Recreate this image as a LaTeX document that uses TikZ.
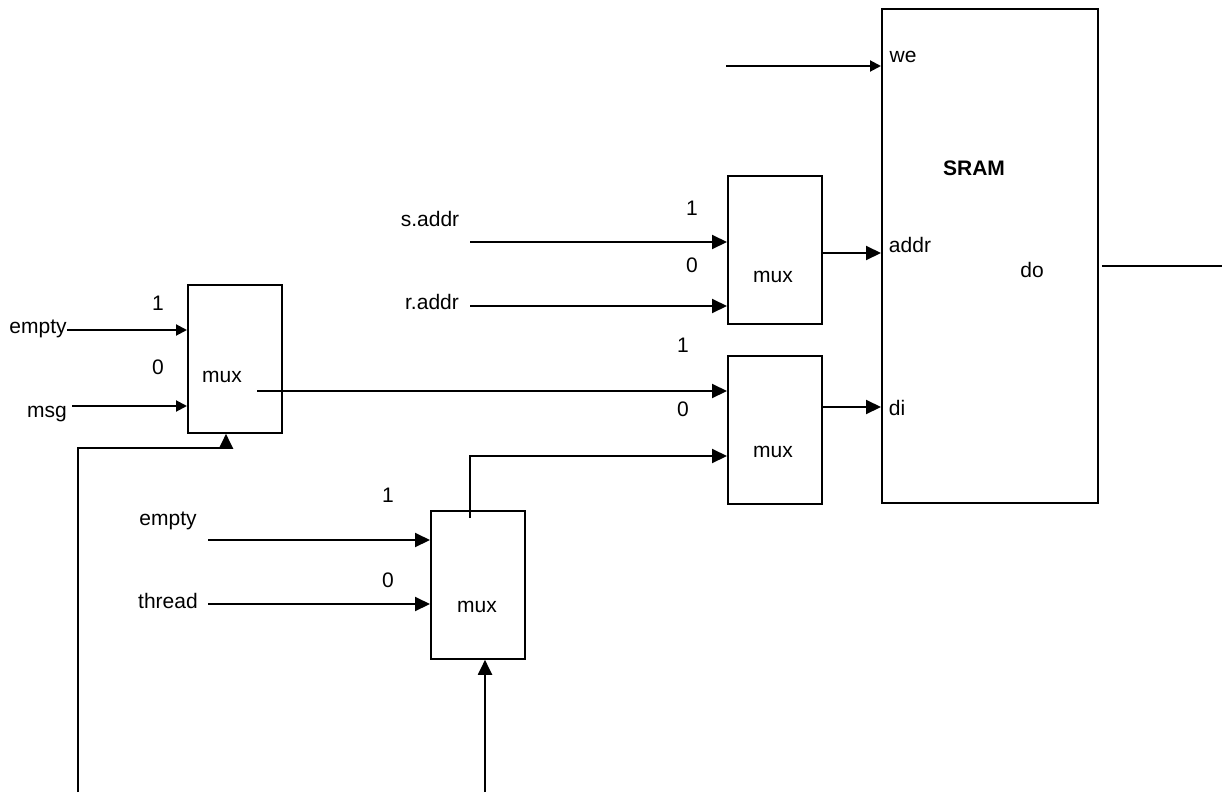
\documentclass[tikz,border=0pt]{standalone}
\usepackage{fontspec}
\setmainfont{Liberation Sans}
\usetikzlibrary{arrows.meta}
\tikzset{
  blk/.style={draw, line width=1.8pt, anchor=north west, inner sep=0pt},
  muxbox/.style={blk, minimum width=94pt, minimum height=148pt},
  lbl/.style={anchor=base, inner sep=0pt, font=\fontsize{21}{25}\selectfont},
  wire/.style={line width=2pt},
  sig/.style={wire, -{Triangle[length=11pt,width=11pt]}},
  bigsig/.style={wire, -{Triangle[length=15pt,width=14pt]}}
}

\begin{document}
\begin{tikzpicture}[x=1pt, y=-1pt]
  \useasboundingbox (0,0) rectangle (1222,792);
  % blocks
  \node[muxbox] (muxa) at (187,284) {};
  \node[muxbox] (muxb) at (727,175) {};
  \node[muxbox] (muxc) at (727,355) {};
  \node[muxbox] (muxd) at (430,510) {};
  \node[blk, minimum width=216pt, minimum height=494pt] (sram) at (881,8) {};

  % mux A
  \node[lbl] (empa) at (38,333) {empty};
  \node[lbl] (msga) at (47,417) {msg};
  \node[lbl] (onea) at (158,310) {1};
  \node[lbl] (zeroa) at (158,374) {0};
  \node[lbl] (txta) at (222,382) {mux};
  % mux B
  \node[lbl] (saddr) at (430,226) {s.addr};
  \node[lbl] (raddr) at (432,309) {r.addr};
  \node[lbl] (oneb) at (692,215) {1};
  \node[lbl] (zerob) at (692,272) {0};
  \node[lbl] (txtb) at (773,282) {mux};
  % mux C
  \node[lbl] (onec) at (683,352) {1};
  \node[lbl] (zeroc) at (683,416) {0};
  \node[lbl] (txtc) at (773,457) {mux};
  % mux D
  \node[lbl] (empd) at (168,525) {empty};
  \node[lbl] (thrd) at (168,608) {thread};
  \node[lbl] (oned) at (388,502) {1};
  \node[lbl] (zerod) at (388,587) {0};
  \node[lbl] (txtd) at (477,612) {mux};
  % SRAM
  \node[lbl, font=\fontsize{21}{25}\selectfont\bfseries] (txts) at (974,175) {SRAM};
  \node[lbl] (we) at (903,63) {we};
  \node[lbl] (addr) at (910,252) {addr};
  \node[lbl] (di) at (897,415) {di};
  \node[lbl] (do) at (1032,277) {do};

  % pins
  \coordinate (pa1) at (187,330);
  \coordinate (pa0) at (187,406);
  \coordinate (pb1) at (727,242);
  \coordinate (pb0) at (727,306);
  \coordinate (pc1) at (727,391);
  \coordinate (pc0) at (727,456);
  \coordinate (pd1) at (430,540);
  \coordinate (pd0) at (430,604);
  \coordinate (pwe) at (881,66);
  \coordinate (paddr) at (881,253);
  \coordinate (pdi) at (881,407);
  % free ends
  \coordinate (outa) at (257,391);
  \coordinate (outd) at (470,518);
  \coordinate (sela) at (78,792);
  \coordinate (selak) at (226,448);
  \coordinate (seld) at (485,792);
  \coordinate (srcs) at (470,242);
  \coordinate (srcr) at (470,306);
  \coordinate (srce) at (208,540);
  \coordinate (srct) at (208,604);
  \coordinate (srcwe) at (726,66);
  \coordinate (outdo) at (1222,266);

  % wires
  \draw[sig] (empa.east |- pa1) -- (pa1);
  \draw[sig] ([xshift=5pt]msga.east |- pa0) -- (pa0);
  \draw[bigsig] (outa) -- (pc1);
  \draw[bigsig] (sela) |- (selak) -- (selak |- muxa.south);
  \draw[bigsig] (srcs) -- (pb1);
  \draw[bigsig] (srcr) -- (pb0);
  \draw[bigsig] (muxb.east |- paddr) -- (paddr);
  \draw[bigsig] (outd) |- (pc0);
  \draw[bigsig] (muxc.east |- pdi) -- (pdi);
  \draw[bigsig] (srce) -- (pd1);
  \draw[bigsig] (srct) -- (pd0);
  \draw[bigsig] (seld) -- (seld |- muxd.south);
  \draw[sig] (srcwe) -- (pwe);
  \draw[wire] ([xshift=3pt]sram.east |- outdo) -- (outdo);
\end{tikzpicture}
\end{document}
